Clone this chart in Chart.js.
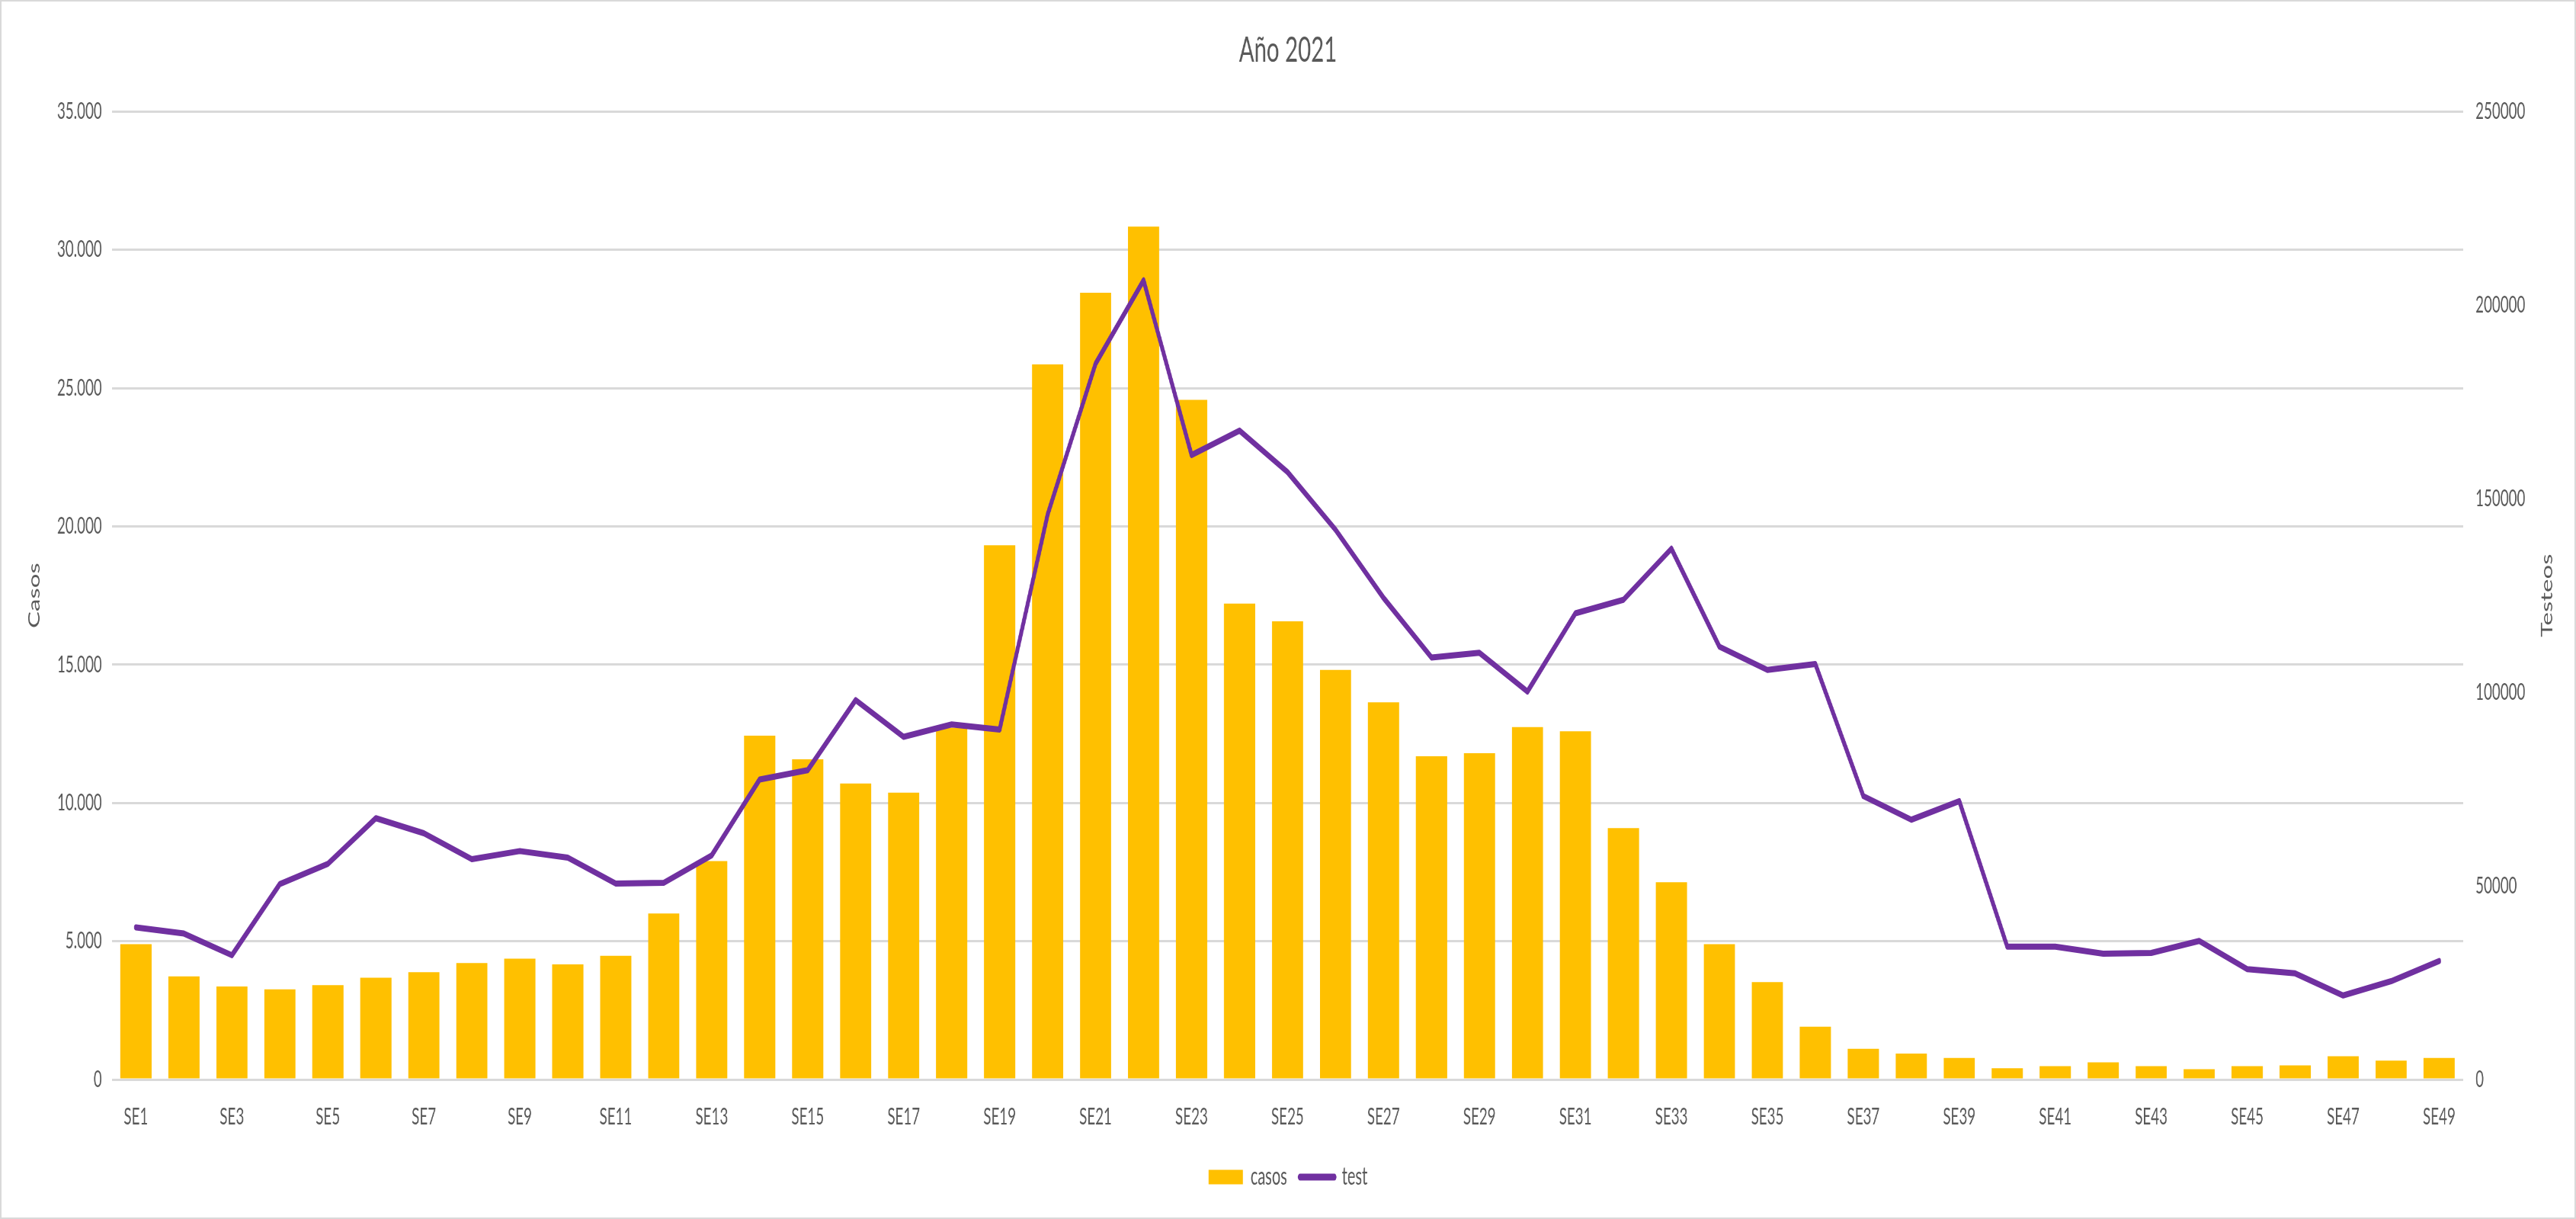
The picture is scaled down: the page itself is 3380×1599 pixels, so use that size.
<!DOCTYPE html>
<html>
<head>
<meta charset="utf-8">
<script src="https://cdn.jsdelivr.net/npm/chart.js@4.4.1/dist/chart.umd.min.js"></script>
<style>
html,body{margin:0;padding:0;background:#fff;overflow:hidden;}
#wrap{position:relative;width:3380px;height:1599px;}
#frame{position:absolute;left:0;top:0;width:3380px;height:1599px;box-sizing:border-box;border:2px solid #d9d9d9;pointer-events:none;}
canvas{display:block;}
</style>
</head>
<body>
<div id="wrap">
<canvas id="c" width="5408" height="1599" style="width:3380px;height:1599px;"></canvas>
<div id="frame"></div>
</div>
<script>
const categories = ['SE1','SE2','SE3','SE4','SE5','SE6','SE7','SE8','SE9','SE10',
  'SE11','SE12','SE13','SE14','SE15','SE16','SE17','SE18','SE19','SE20',
  'SE21','SE22','SE23','SE24','SE25','SE26','SE27','SE28','SE29','SE30',
  'SE31','SE32','SE33','SE34','SE35','SE36','SE37','SE38','SE39','SE40',
  'SE41','SE42','SE43','SE44','SE45','SE46','SE47','SE48','SE49'];

const casos = [4890, 3730, 3360, 3260, 3410, 3680, 3880, 4210, 4370, 4160,
  4470, 6000, 7900, 12430, 11580, 10700, 10370, 12720, 19320, 25860,
  28450, 30840, 24580, 17210, 16570, 14810, 13640, 11690, 11800, 12740,
  12590, 9090, 7130, 4890, 3520, 1910, 1110, 940, 780, 410,
  480, 620, 480, 370, 480, 510, 840, 680, 780];

const test = [39300, 37700, 32100, 50500, 55700, 67500, 63600, 56900, 59000, 57300,
  50600, 50800, 57900, 77500, 79900, 98000, 88500, 91700, 90400, 145900,
  184900, 206400, 161300, 167600, 156900, 142000, 124400, 109000, 110200, 100200,
  120400, 123900, 137100, 111800, 105800, 107300, 73200, 67100, 71900, 34300,
  34300, 32500, 32700, 35800, 28500, 27400, 21700, 25400, 30600];

const seriesNames = ['casos', 'test'];
const chartTitle = 'Año 2021';
const axisTitles = ['Casos', 'Testeos'];
const leftAxisRange = [0, 35000, 5000];
const rightAxisRange = [0, 250000, 50000];

const TEXT = '#595959';
const FONT = 'Lato';

function fmtDots(v) {
  return String(v).replace(/\B(?=(\d{3})+(?!\d))/g, '.');
}

const rightTitle = {
  id: 'rightTitle',
  afterDraw(chart) {
    const s = chart.scales.y1;
    const ctx = chart.ctx;
    ctx.save();
    ctx.translate(s.right - 61, (s.top + s.bottom) / 2);
    ctx.rotate(-Math.PI / 2);
    ctx.font = '33px ' + FONT;
    ctx.fillStyle = TEXT;
    ctx.textAlign = 'center';
    ctx.textBaseline = 'middle';
    ctx.fillText(axisTitles[1], 0, 0);
    ctx.restore();
  }
};

function build() {
  Chart.defaults.font.family = FONT;
  Chart.defaults.color = TEXT;
  new Chart(document.getElementById('c'), {
    data: {
      labels: categories,
      datasets: [
        {
          type: 'bar',
          label: seriesNames[0],
          data: casos,
          yAxisID: 'y',
          backgroundColor: '#FFC000',
          borderWidth: 0,
          barPercentage: 0.65,
          categoryPercentage: 1,
          order: 1
        },
        {
          type: 'line',
          label: seriesNames[1],
          data: test,
          yAxisID: 'y1',
          borderColor: '#7030A0',
          backgroundColor: '#7030A0',
          borderWidth: 8,
          borderJoinStyle: 'round',
          borderCapStyle: 'round',
          pointRadius: 0,
          pointHoverRadius: 0,
          tension: 0,
          fill: false,
          order: 0
        }
      ]
    },
    options: {
      responsive: false,
      animation: false,
      devicePixelRatio: 1,
      layout: { padding: { left: 0, right: 0, top: 0, bottom: 29 } },
      plugins: {
        tooltip: { enabled: false },
        title: {
          display: true,
          text: chartTitle,
          color: TEXT,
          font: { size: 47, weight: 'normal', family: FONT },
          padding: { top: 38, bottom: 52 }
        },
        legend: {
          display: true,
          position: 'bottom',
          labels: {
            color: TEXT,
            font: { size: 32, family: FONT },
            usePointStyle: true,
            pointStyleWidth: 72,
            boxHeight: 19,
            padding: 27,
            generateLabels(chart) {
              return chart.data.datasets.map((ds, i) => ({
                text: ds.label,
                fillStyle: ds.type === 'bar' ? ds.backgroundColor : ds.borderColor,
                strokeStyle: ds.type === 'bar' ? ds.backgroundColor : ds.borderColor,
                lineWidth: ds.type === 'bar' ? 0 : 9,
                lineCap: 'round',
                pointStyle: ds.type === 'bar' ? 'rect' : 'line',
                fontColor: TEXT,
                hidden: false,
                datasetIndex: i
              }));
            }
          }
        }
      },
      scales: {
        x: {
          type: 'category',
          offset: true,
          grid: { display: false, drawTicks: false },
          border: { display: false },
          ticks: {
            autoSkip: false,
            maxRotation: 0,
            minRotation: 0,
            padding: 31,
            color: TEXT,
            font: { size: 30, family: FONT },
            callback(value, index) { return index % 2 === 0 ? categories[index] : ''; }
          },
          afterFit(scale) { scale.height = 85; }
        },
        y: {
          type: 'linear',
          position: 'left',
          min: leftAxisRange[0],
          max: leftAxisRange[1],
          grid: { color: '#d9d9d9', lineWidth: 3, drawTicks: false },
          border: { display: false },
          ticks: {
            stepSize: leftAxisRange[2],
            padding: 21,
            color: TEXT,
            font: { size: 30, family: FONT },
            callback(v) { return fmtDots(v); }
          },
          title: {
            display: true,
            text: axisTitles[0],
            color: TEXT,
            font: { size: 33, family: FONT },
            padding: { top: 53, bottom: 0 }
          },
          afterFit(scale) { scale.width = 235; }
        },
        y1: {
          type: 'linear',
          position: 'right',
          min: rightAxisRange[0],
          max: rightAxisRange[1],
          grid: { display: false, drawTicks: false },
          border: { display: false },
          ticks: {
            stepSize: rightAxisRange[2],
            padding: 26,
            color: TEXT,
            font: { size: 30, family: FONT },
            callback(v) { return String(v); }
          },
          afterFit(scale) { scale.width = 237; }
        }
      }
    },
    plugins: [rightTitle]
  });
}

if (document.fonts && document.fonts.load) {
  Promise.all([
    document.fonts.load('30px Lato'),
    document.fonts.load('47px Lato')
  ]).then(build, build);
} else {
  build();
}
</script>
</body>
</html>
